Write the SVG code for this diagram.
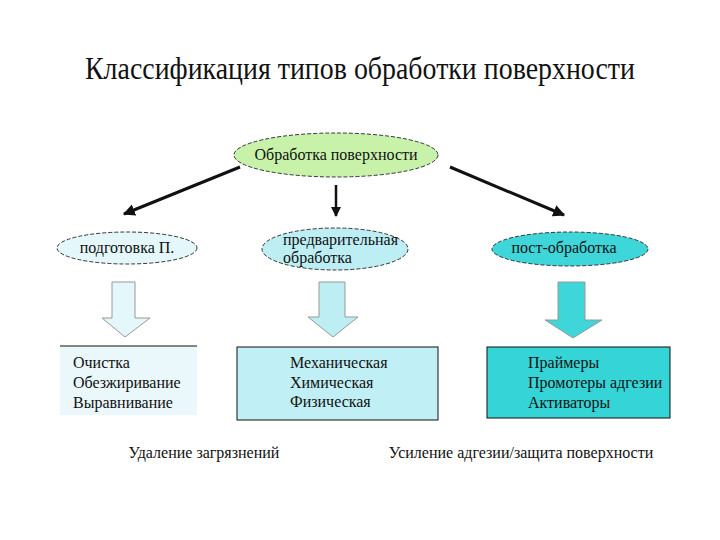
<svg xmlns="http://www.w3.org/2000/svg" width="720" height="540" viewBox="0 0 720 540" font-family="'Liberation Serif','DejaVu Serif',serif">
<defs>
<style>
text{font-family:'Liberation Serif','DejaVu Serif',serif;fill:#111}
.t{font-size:16px}
.ell{stroke:#333;stroke-width:1;stroke-dasharray:4 2}
.blk{stroke:#999;stroke-width:1}
.con{stroke:#111;stroke-width:3;fill:none}
</style>
<marker id="ah" viewBox="0 0 10 10" refX="9" refY="5" markerWidth="4" markerHeight="4" orient="auto" markerUnits="strokeWidth">
<path d="M0,0 L10,5 L0,10 Z" fill="#111"/>
</marker>
</defs>
<rect width="720" height="540" fill="#fff"/>
<text x="85" y="79" font-size="31" textLength="550" lengthAdjust="spacingAndGlyphs">Классификация типов обработки поверхности</text>

<g id="connectors">
<line class="con" x1="240" y1="167" x2="124" y2="214" marker-end="url(#ah)"/>
<line class="con" x1="336" y1="185" x2="336" y2="216" marker-end="url(#ah)" style="stroke-width:2.5"/>
<line class="con" x1="450" y1="167" x2="564" y2="215" marker-end="url(#ah)"/>
</g>

<g id="node-main">
<ellipse class="ell" cx="336" cy="155" rx="102" ry="22" fill="#c8f2aa"/>
<text class="t" x="336" y="160" text-anchor="middle">Обработка поверхности</text>
</g>

<g id="node-prep">
<ellipse class="ell" cx="127" cy="248" rx="70" ry="16" fill="#e4f7fa"/>
<text class="t" x="127" y="253" text-anchor="middle">подготовка П.</text>
</g>

<g id="node-pre">
<ellipse class="ell" cx="335" cy="249" rx="73" ry="21" fill="#bdeef3"/>
<text class="t" x="283" y="245">предварительная</text>
<text class="t" x="283" y="263">обработка</text>
</g>

<g id="node-post">
<ellipse class="ell" cx="570" cy="249" rx="78" ry="17" fill="#3ed6d9"/>
<text class="t" x="564" y="253" text-anchor="middle">пост-обработка</text>
</g>

<g id="arrow-left">
<path class="blk" d="M112,282 H135 V318 H150 L125,337 L102,318 H112 Z" fill="#e4f7fa"/>
</g>
<g id="arrow-mid">
<path class="blk" d="M319,282 H345 V317 H358 L333,337 L308,317 H319 Z" fill="#bdeef3"/>
</g>
<g id="arrow-right">
<path class="blk" d="M558,282 H585 V320 H602 L573,338 L545,320 H558 Z" fill="#3ed6d9"/>
</g>

<g id="box-left">
<rect x="60" y="346" width="137" height="69" fill="#eaf8fb"/>
<line x1="60" y1="346" x2="197" y2="346" stroke="#111" stroke-width="1"/>
<text class="t" x="73" y="368">Очистка</text>
<text class="t" x="73" y="388">Обезжиривание</text>
<text class="t" x="73" y="408">Выравнивание</text>
</g>

<g id="box-mid">
<rect x="237" y="347" width="201" height="73" fill="#c0f0f5" stroke="#111" stroke-width="1"/>
<text class="t" x="290" y="368">Механическая</text>
<text class="t" x="290" y="388">Химическая</text>
<text class="t" x="290" y="407">Физическая</text>
</g>

<g id="box-right">
<rect x="487" y="347" width="183" height="71" fill="#35d5d7" stroke="#111" stroke-width="1"/>
<text class="t" x="528" y="368">Праймеры</text>
<text class="t" x="528" y="388">Промотеры адгезии</text>
<text class="t" x="528" y="408">Активаторы</text>
</g>

<text class="t" x="204" y="458" text-anchor="middle">Удаление загрязнений</text>
<text class="t" x="521" y="458" text-anchor="middle">Усиление адгезии/защита поверхности</text>
</svg>
